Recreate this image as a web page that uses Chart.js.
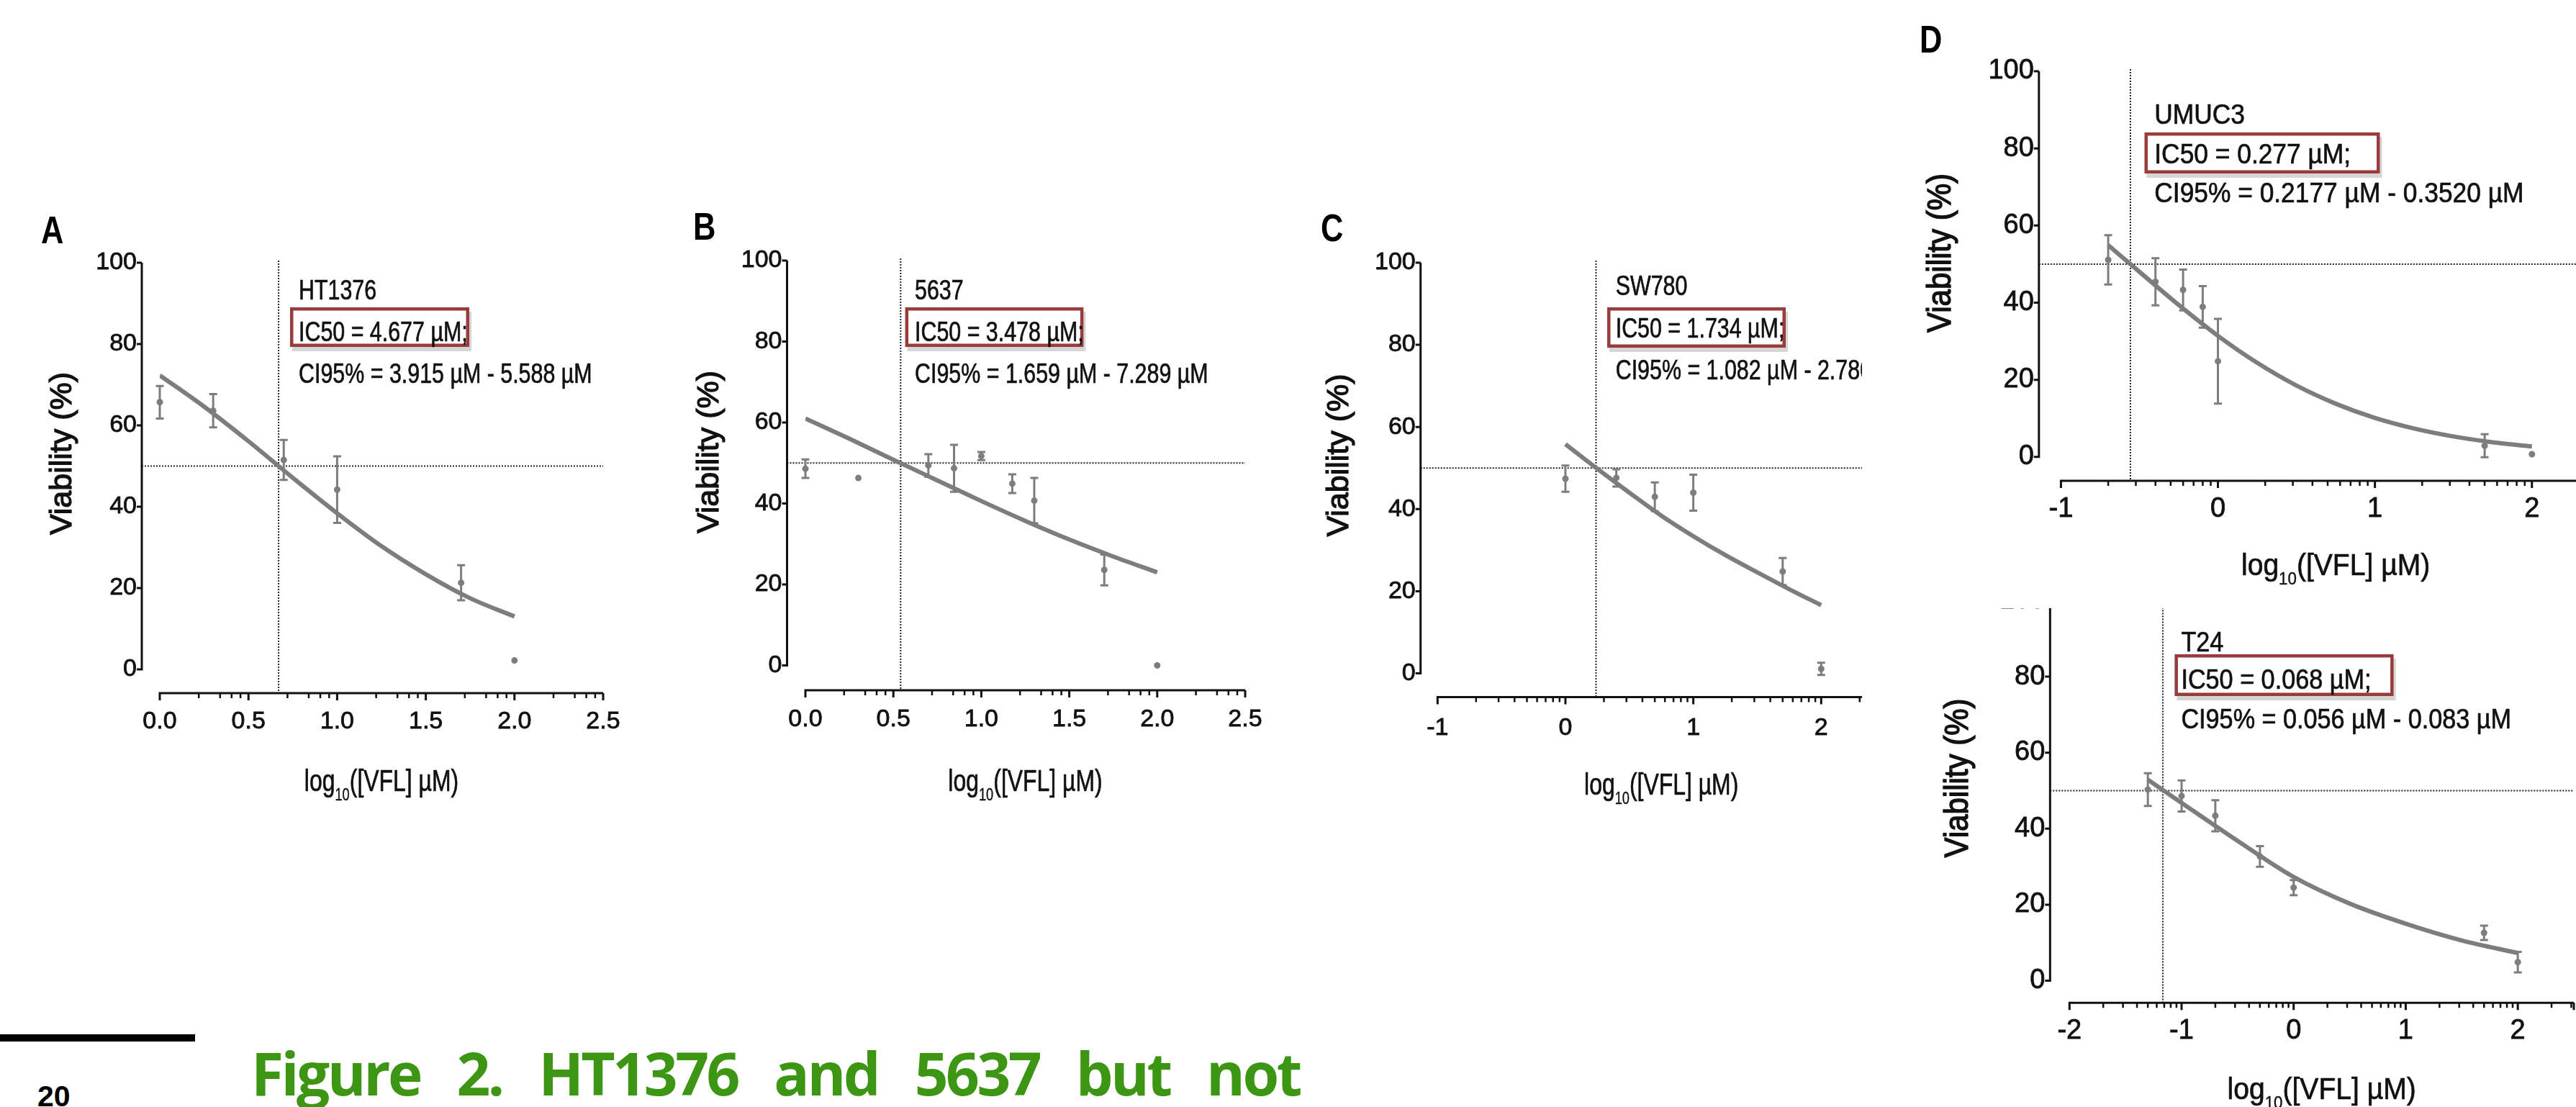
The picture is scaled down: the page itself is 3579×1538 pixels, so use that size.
<!DOCTYPE html>
<html>
<head>
<meta charset="utf-8">
<style>
html, body { margin: 0; padding: 0; background: #fff; }
body { width: 3579px; height: 1538px; overflow: hidden; position: relative; }
.panel { position: absolute; overflow: hidden; }
.panel canvas { position: absolute; }
.letter { position: absolute; font: bold 53px "Liberation Sans", sans-serif; line-height: 53px; color: #000; transform: scaleX(0.82); transform-origin: left top; }
#bar { position: absolute; left: 0; top: 1437px; width: 271px; height: 10px; background: #000; }
#pagenum { position: absolute; left: 52px; top: 1503px; font: bold 41px "Liberation Sans", sans-serif; line-height: 41px; color: #000; }
#caption { position: absolute; left: 349px; top: 1449px; font: bold 82px "Open Sans", sans-serif; line-height: 82px; letter-spacing: -3.5px; color: #3d9613; white-space: nowrap; }
</style>
</head>
<body>
<script>
// values: x = log10 of the VFL dose (µM), y = viability (%)
const yTicks = [0, 20, 40, 60, 80, 100];
const xTicksLinear = [0, 0.5, 1, 1.5, 2, 2.5];
const xTicksLog = [-1, 0, 1, 2];
const xTicksT24 = [-2, -1, 0, 1, 2];

const cellLines = ['HT1376', '5637', 'SW780', 'UMUC3', 'T24'];
const ic50Values = [4.677, 3.478, 1.734, 0.277, 0.068];
const ic50Labels = ['IC50 = 4.677 µM;', 'IC50 = 3.478 µM;', 'IC50 = 1.734 µM;', 'IC50 = 0.277 µM;', 'IC50 = 0.068 µM;'];
const ciLabels = ['CI95% = 3.915 µM - 5.588 µM', 'CI95% = 1.659 µM - 7.289 µM', 'CI95% = 1.082 µM - 2.780 µM',
                  'CI95% = 0.2177 µM - 0.3520 µM', 'CI95% = 0.056 µM - 0.083 µM'];

const doseHT1376 = [0, 0.301, 0.699, 1, 1.699, 2];
const viabHT1376 = [65.7, 63.6, 51.5, 44.2, 21.3, 2.2];
const errHT1376  = [4, 4.1, 4.9, 8.2, 4.3, 0];
const fitXHT1376 = [0, 0.25, 0.5, 0.75, 1, 1.25, 1.5, 1.75, 2];
const fitYHT1376 = [72.3, 64.6, 56.1, 47.1, 38.4, 30.3, 23.4, 17.5, 13.0];

const dose5637 = [0, 0.301, 0.699, 0.845, 1, 1.176, 1.301, 1.699, 2];
const viab5637 = [48.6, 46.3, 49.4, 48.7, 51.7, 44.9, 40.7, 23.6, 0];
const err5637  = [2.3, 0, 2.8, 5.8, 1, 2.3, 5.6, 3.8, 0];
const fitX5637 = [0, 0.25, 0.5, 0.75, 1, 1.25, 1.5, 1.75, 2];
const fitY5637 = [61.0, 56.0, 50.8, 45.7, 40.6, 35.7, 31.1, 26.9, 23.0];

const doseSW780 = [0, 0.398, 0.699, 1, 1.699, 2];
const viabSW780 = [47.4, 47.6, 43.0, 44.0, 24.8, 1.1];
const errSW780  = [3.2, 2.1, 3.5, 4.4, 3.3, 1.5];
const fitXSW780 = [0, 0.25, 0.5, 0.75, 1, 1.25, 1.5, 1.75, 2];
const fitYSW780 = [55.8, 49.8, 44.0, 38.4, 33.4, 28.8, 24.6, 20.5, 16.6];

const doseUMUC3 = [-0.699, -0.398, -0.222, -0.097, 0, 1.699, 2];
const viabUMUC3 = [51.1, 45.4, 43.3, 38.9, 24.8, 2.9, 0.7];
const errUMUC3  = [6.4, 6.1, 5.3, 5.4, 11, 3, 0];
const fitXUMUC3 = [-0.699, -0.5, -0.25, 0, 0.25, 0.5, 0.75, 1, 1.25, 1.5, 1.75, 2];
const fitYUMUC3 = [54.9, 48.0, 39.4, 31.4, 24.4, 18.5, 13.8, 10.1, 7.35, 5.3, 3.8, 2.7];

const doseT24 = [-1.301, -1, -0.699, -0.301, 0, 1.699, 2];
const viabT24 = [50.3, 48.6, 43.4, 32.7, 24.5, 12.6, 4.9];
const errT24  = [4.3, 4.1, 4.1, 2.7, 2, 1.9, 2.7];
const fitXT24 = [-1.301, -1, -0.5, 0, 0.5, 1, 1.5, 2];
const fitYT24 = [52.9, 46.8, 36.8, 27.3, 20.3, 15.0, 10.6, 7.3];
</script>

<div class="letter" style="left:57px;top:293px">A</div>
<div class="letter" style="left:963px;top:288px">B</div>
<div class="letter" style="left:1835px;top:290px">C</div>
<div class="letter" style="left:2667px;top:28px">D</div>
<div id="bar"></div>
<div id="pagenum">20</div>
<div id="caption">Figure 2. HT1376 and 5637 but not</div>

<script src="https://cdn.jsdelivr.net/npm/chart.js"></script>
<script>
const SANS = '"Liberation Sans", Arial, sans-serif';
const GRAY = '#7d7d7d';
const INK = '#111';
const halfOffsets = [0.22, 0.34, 0.405, 0.455];

// page geometry of each panel (pixels); annSX / xTitle.sx squeeze the text to the narrow face of the original
const panels = [
  { canvas: [40, 280, 860, 850], clip: [40, 280, 860, 850],
    area: { left: 222, right: 838, top: 365, bottom: 930 },
    xMin: 0, xMax: 2.5, majors: xTicksLinear, minor: 'half', decimals: 1,
    yGap: 25, xGap: 33, xLabelGap: 40, tickFont: 34,
    annFont: 38, annSX: 0.8, textX: 415, baselines: [416, 473.5, 532], box: [403, 427, 652, 482],
    yTitle: { x: 87, y: 630, size: 43, sx: 1 }, xTitle: { baseline: 1099, size: 42, sx: 0.76 },
    x: doseHT1376, y: viabHT1376, err: errHT1376, fx: fitXHT1376, fy: fitYHT1376 },
  { canvas: [930, 280, 870, 850], clip: [930, 280, 870, 850],
    area: { left: 1119, right: 1730, top: 362, bottom: 924.5 },
    xMin: 0, xMax: 2.5, majors: xTicksLinear, minor: 'half', decimals: 1,
    yGap: 25.5, xGap: 34.5, xLabelGap: 41, tickFont: 34,
    annFont: 38, annSX: 0.8, textX: 1271, baselines: [416, 473.5, 532], box: [1257.6, 427, 1505.4, 482],
    yTitle: { x: 986, y: 628, size: 43, sx: 1 }, xTitle: { baseline: 1099, size: 42, sx: 0.76 },
    x: dose5637, y: viab5637, err: err5637, fx: fitX5637, fy: fitY5637 },
  { canvas: [1810, 280, 890, 850], clip: [1810, 280, 777, 850],
    area: { left: 1997.3, right: 2619.1, top: 365, bottom: 935.5 },
    xMin: -1, xMax: 2.5, majors: xTicksLog, minor: 'log', decimals: 0,
    yGap: 23.6, xGap: 33, xLabelGap: 43, tickFont: 34,
    annFont: 38, annSX: 0.8, textX: 2244.7, baselines: [410, 469, 527], box: [2233, 427, 2481, 483],
    yTitle: { x: 1861.5, y: 632.5, size: 43, sx: 1 }, xTitle: { baseline: 1104, size: 42, sx: 0.76 },
    x: doseSW780, y: viabSW780, err: errSW780, fx: fitXSW780, fy: fitYSW780 },
  { canvas: [2640, 0, 1060, 830], clip: [2640, 0, 939, 832],
    area: { left: 2863.4, right: 3626.8, top: 99, bottom: 634.8 },
    xMin: -1, xMax: 2.5, majors: xTicksLog, minor: 'log', decimals: 0,
    yGap: 30.6, xGap: 33.2, xLabelGap: 39.6, tickFont: 38,
    annFont: 38, annSX: 0.93, textX: 2993.3, baselines: [171.5, 226.6, 281.2], box: [2979.5, 184, 3306.5, 241],
    yTitle: { x: 2697, y: 351.5, size: 42, sx: 1.1 }, xTitle: { baseline: 799, size: 42, sx: 0.93 },
    x: doseUMUC3, y: viabUMUC3, err: errUMUC3, fx: fitXUMUC3, fy: fitYUMUC3 },
  { canvas: [2640, 760, 1000, 800], clip: [2640, 845, 939, 693],
    area: { left: 2875.3, right: 3576, top: 834.4, bottom: 1362.6 },
    xMin: -2, xMax: 2.5, majors: xTicksT24, minor: 'log', decimals: 0,
    yGap: 27, xGap: 30.7, xLabelGap: 39, tickFont: 38,
    annFont: 38, annSX: 0.9, textX: 3030.4, baselines: [904.7, 957.4, 1012.3], box: [3021.4, 909, 3325.6, 967],
    yTitle: { x: 2721, y: 1081, size: 42, sx: 1.1 }, xTitle: { baseline: 1527, size: 42, sx: 0.93 },
    x: doseT24, y: viabT24, err: errT24, fx: fitXT24, fy: fitYT24 }
];

function minorTicks(p) {
  const out = [];
  if (p.minor === 'half') {
    for (let m = p.xMin; m < p.xMax; m += 0.5) halfOffsets.forEach(o => out.push(m + o));
  } else {
    for (let n = Math.floor(p.xMin); n < p.xMax; n++) {
      for (let k = 2; k <= 9; k++) {
        const v = n + Math.log10(k);
        if (v < p.xMax) out.push(v);
      }
    }
  }
  return out;
}

// text squeezed horizontally, with a thin outline so it reads as heavy as the original
function stretchedText(ctx, str, x, y, font, sx, weight) {
  ctx.save();
  ctx.font = font;
  ctx.translate(x, y);
  ctx.scale(sx, 1);
  ctx.fillText(str, 0, 0);
  ctx.lineWidth = weight || 0.7;
  ctx.strokeStyle = ctx.fillStyle;
  ctx.strokeText(str, 0, 0);
  ctx.restore();
}

function prismPlugin(p, i) {
  const ox = p.canvas[0], oy = p.canvas[1];
  return {
    id: 'prism' + i,
    beforeDatasetsDraw(chart) {
      const ctx = chart.ctx, xs = chart.scales.x, ys = chart.scales.y;
      const yLineX = xs.getPixelForValue(p.xMin) - p.yGap;
      const xLineY = ys.getPixelForValue(0) + p.xGap;
      ctx.save();
      // dotted reference lines
      ctx.strokeStyle = '#222';
      ctx.lineWidth = 2;
      ctx.setLineDash([2, 2]);
      ctx.beginPath();
      const yHalf = ys.getPixelForValue(50);
      ctx.moveTo(yLineX, yHalf);
      ctx.lineTo(xs.getPixelForValue(p.xMax), yHalf);
      const xIc = xs.getPixelForValue(Math.log10(ic50Values[i]));
      ctx.moveTo(xIc, ys.getPixelForValue(100) - 3);
      ctx.lineTo(xIc, xLineY);
      ctx.stroke();
      ctx.setLineDash([]);
      // error bars
      ctx.strokeStyle = GRAY;
      ctx.lineWidth = 3;
      ctx.beginPath();
      p.x.forEach((xv, k) => {
        const e = p.err[k];
        if (!e) return;
        const cx = xs.getPixelForValue(xv);
        const top = ys.getPixelForValue(p.y[k] + e);
        const bot = ys.getPixelForValue(p.y[k] - e);
        ctx.moveTo(cx, top); ctx.lineTo(cx, bot);
        ctx.moveTo(cx - 5.5, top); ctx.lineTo(cx + 5.5, top);
        ctx.moveTo(cx - 5.5, bot); ctx.lineTo(cx + 5.5, bot);
      });
      ctx.stroke();
      ctx.restore();
    },
    afterDraw(chart) {
      const ctx = chart.ctx, xs = chart.scales.x, ys = chart.scales.y;
      const yLineX = xs.getPixelForValue(p.xMin) - p.yGap;
      const xLineY = ys.getPixelForValue(0) + p.xGap;
      ctx.save();
      ctx.strokeStyle = INK;
      ctx.lineWidth = 3;
      ctx.beginPath();
      // y axis
      ctx.moveTo(yLineX, ys.getPixelForValue(100));
      ctx.lineTo(yLineX, ys.getPixelForValue(0) + 1.5);
      yTicks.forEach(v => {
        const py = ys.getPixelForValue(v);
        ctx.moveTo(yLineX - 7, py); ctx.lineTo(yLineX, py);
      });
      // x axis
      const xL = xs.getPixelForValue(p.xMin), xR = xs.getPixelForValue(p.xMax);
      ctx.moveTo(xL - 1.5, xLineY); ctx.lineTo(xR, xLineY);
      p.majors.concat([p.xMax]).forEach(v => {
        const px = xs.getPixelForValue(v);
        ctx.moveTo(px, xLineY); ctx.lineTo(px, xLineY + 10);
      });
      ctx.stroke();
      ctx.lineWidth = 2.5;
      ctx.beginPath();
      minorTicks(p).forEach(v => {
        const px = xs.getPixelForValue(v);
        ctx.moveTo(px, xLineY); ctx.lineTo(px, xLineY + 7);
      });
      ctx.stroke();

      // y title
      ctx.fillStyle = INK;
      ctx.save();
      ctx.translate(p.yTitle.x - ox, p.yTitle.y - oy);
      ctx.scale(p.yTitle.sx, 1);
      ctx.rotate(-Math.PI / 2);
      ctx.textAlign = 'center';
      ctx.textBaseline = 'middle';
      stretchedText(ctx, 'Viability (%)', 0, 0, p.yTitle.size + 'px ' + SANS, 1, 1.3);
      ctx.restore();

      // x title with subscript
      const s = p.xTitle.size, sub = Math.round(s * 0.58), sx = p.xTitle.sx;
      const fMain = s + 'px ' + SANS, fSub = sub + 'px ' + SANS;
      ctx.font = fMain;
      const w1 = ctx.measureText('log').width, w3 = ctx.measureText('([VFL] µM)').width;
      ctx.font = fSub;
      const w2 = ctx.measureText('10').width;
      const total = (w1 + w2 + w3) * sx;
      const cx = (xL + xR) / 2;
      let tx = cx - total / 2;
      const bl = p.xTitle.baseline - oy;
      ctx.textAlign = 'left';
      ctx.textBaseline = 'alphabetic';
      stretchedText(ctx, 'log', tx, bl, fMain, sx); tx += w1 * sx;
      stretchedText(ctx, '10', tx, bl + s * 0.3, fSub, sx, 0.4); tx += w2 * sx;
      stretchedText(ctx, '([VFL] µM)', tx, bl, fMain, sx);

      // IC50 box with its soft shadow
      const bx = p.box[0] - ox, by = p.box[1] - oy, bw = p.box[2] - p.box[0], bh = p.box[3] - p.box[1];
      ctx.fillStyle = '#d5d5d5';
      ctx.fillRect(bx + 3, by + 6, bw, bh);
      ctx.fillStyle = '#fff';
      ctx.fillRect(bx, by, bw, bh);
      ctx.strokeStyle = '#993b3b';
      ctx.lineWidth = 4.5;
      ctx.strokeRect(bx + 2.25, by + 2.25, bw - 4.5, bh - 4.5);

      // annotation text
      ctx.fillStyle = INK;
      const fAnn = p.annFont + 'px ' + SANS;
      const lx = p.textX - ox;
      stretchedText(ctx, cellLines[i], lx, p.baselines[0] - oy, fAnn, p.annSX);
      stretchedText(ctx, ic50Labels[i], lx, p.baselines[1] - oy, fAnn, p.annSX);
      stretchedText(ctx, ciLabels[i], lx, p.baselines[2] - oy, fAnn, p.annSX);
      ctx.restore();
    }
  };
}

panels.forEach((p, i) => {
  const holder = document.createElement('div');
  holder.className = 'panel';
  holder.style.left = p.clip[0] + 'px';
  holder.style.top = p.clip[1] + 'px';
  holder.style.width = p.clip[2] + 'px';
  holder.style.height = p.clip[3] + 'px';
  const cv = document.createElement('canvas');
  cv.width = p.canvas[2];
  cv.height = p.canvas[3];
  cv.style.width = p.canvas[2] + 'px';
  cv.style.height = p.canvas[3] + 'px';
  cv.style.left = (p.canvas[0] - p.clip[0]) + 'px';
  cv.style.top = (p.canvas[1] - p.clip[1]) + 'px';
  holder.appendChild(cv);
  document.body.appendChild(holder);

  const yW = p.area.left - p.canvas[0];
  const padR = p.canvas[0] + p.canvas[2] - p.area.right;
  const padT = p.area.top - p.canvas[1];
  const xH = p.canvas[1] + p.canvas[3] - p.area.bottom;
  const tickFont = { family: SANS, size: p.tickFont, lineHeight: 1 };

  new Chart(cv, {
    type: 'scatter',
    data: {
      datasets: [
        { type: 'line', data: p.fx.map((x, k) => ({ x: x, y: p.fy[k] })),
          borderColor: GRAY, borderWidth: 6, pointRadius: 0, fill: false,
          cubicInterpolationMode: 'monotone' },
        { type: 'scatter', data: p.x.map((x, k) => ({ x: x, y: p.y[k] })),
          pointRadius: 4.5, pointBackgroundColor: GRAY, pointBorderWidth: 0, clip: false }
      ]
    },
    options: {
      responsive: false,
      animation: false,
      devicePixelRatio: 1,
      layout: { padding: { left: 0, right: padR, top: padT, bottom: 0 } },
      plugins: { legend: { display: false }, tooltip: { enabled: false } },
      scales: {
        x: {
          type: 'linear', min: p.xMin, max: p.xMax,
          grid: { display: false, drawTicks: false }, border: { display: false },
          afterBuildTicks: s => { s.ticks = p.majors.map(v => ({ value: v })); },
          afterFit: s => { s.height = xH; s.paddingLeft = 0; s.paddingRight = 0; s.paddingTop = 0; s.paddingBottom = 0; },
          ticks: {
            autoSkip: false, maxRotation: 0, minRotation: 0, color: INK,
            textStrokeColor: INK, textStrokeWidth: 0.8,
            padding: p.xGap + p.xLabelGap - p.tickFont / 2,
            font: tickFont,
            callback: v => p.decimals ? Number(v).toFixed(p.decimals) : String(v)
          }
        },
        y: {
          type: 'linear', min: 0, max: 100,
          grid: { display: false, drawTicks: false }, border: { display: false },
          afterBuildTicks: s => { s.ticks = yTicks.map(v => ({ value: v })); },
          afterFit: s => { s.width = yW; s.paddingLeft = 0; s.paddingRight = 0; s.paddingTop = 0; s.paddingBottom = 0; },
          ticks: {
            autoSkip: false, color: INK, padding: p.yGap + 7,
            textStrokeColor: INK, textStrokeWidth: 0.8,
            font: tickFont
          }
        }
      }
    },
    plugins: [prismPlugin(p, i)]
  });
});

// spread the caption words over the same line length as the original
const cap = document.getElementById('caption');
const gaps = cap.textContent.split(' ').length - 1;
cap.style.wordSpacing = ((1457 - cap.offsetWidth) / gaps) + 'px';
</script>
</body>
</html>
